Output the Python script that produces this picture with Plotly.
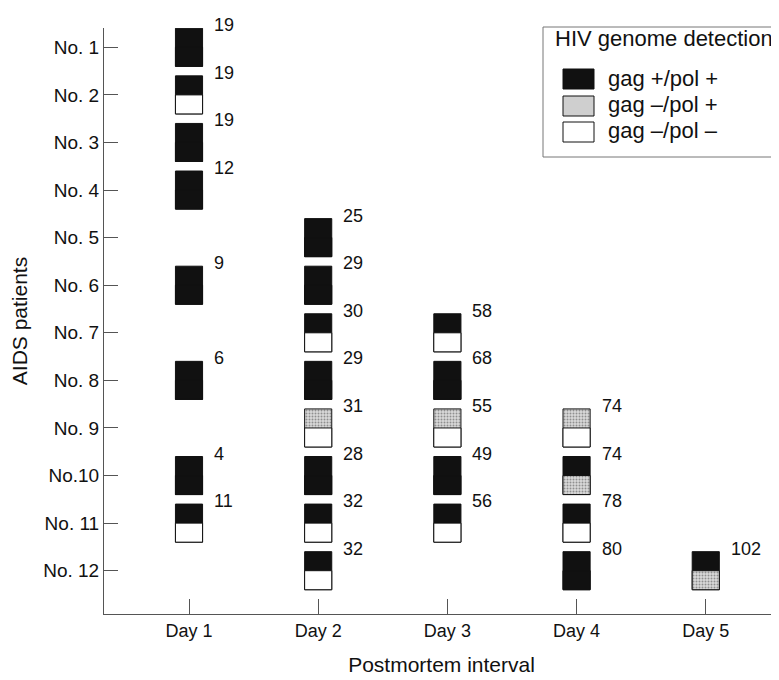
import plotly.graph_objects as go

# ---------------- data ----------------
day_labels = ["Day 1", "Day 2", "Day 3", "Day 4", "Day 5"]
patient_labels = ["No. 1", "No. 2", "No. 3", "No. 4", "No. 5", "No. 6",
                  "No. 7", "No. 8", "No. 9", "No.10", "No. 11", "No. 12"]

# each sample: day, patient, postmortem hours, upper-half result, lower-half result
# results: "pp" = gag +/pol + , "mp" = gag -/pol + , "mm" = gag -/pol -
sample_day = [1, 1, 1, 1, 1, 1, 1, 1,
              2, 2, 2, 2, 2, 2, 2, 2,
              3, 3, 3, 3, 3,
              4, 4, 4, 4,
              5]
sample_patient = [1, 2, 3, 4, 6, 8, 10, 11,
                  5, 6, 7, 8, 9, 10, 11, 12,
                  7, 8, 9, 10, 11,
                  9, 10, 11, 12,
                  12]
sample_hours = [19, 19, 19, 12, 9, 6, 4, 11,
                25, 29, 30, 29, 31, 28, 32, 32,
                58, 68, 55, 49, 56,
                74, 74, 78, 80,
                102]
upper_result = ["pp", "pp", "pp", "pp", "pp", "pp", "pp", "pp",
                "pp", "pp", "pp", "pp", "mp", "pp", "pp", "pp",
                "pp", "pp", "mp", "pp", "pp",
                "mp", "pp", "pp", "pp",
                "pp"]
lower_result = ["pp", "mm", "pp", "pp", "pp", "pp", "pp", "mm",
                "pp", "pp", "mm", "pp", "mm", "pp", "mm", "mm",
                "mm", "pp", "mm", "pp", "mm",
                "mm", "mp", "mm", "pp",
                "mp"]

legend_keys = ["pp", "mp", "mm"]
legend_text = ["gag +/pol +", "gag \u2013/pol +", "gag \u2013/pol \u2013"]

# ---------------- styles ----------------
FONT = "Liberation Sans, Arial, sans-serif"
INK = "#111111"
FILL = {"pp": INK, "mp": "#dadada", "mm": "#ffffff"}
PAT = {"pp": "", "mp": ".", "mm": ""}
AXIS_COL = "#555555"

PAGE_OFF = 8                      # default body margin of the html page
W, H = 779 - PAGE_OFF, 680 - PAGE_OFF
L, R, T, B = 104 - PAGE_OFF, 0, 28 - PAGE_OFF, 66
PW, PH = W - L - R, H - T - B
HALF = 0.4
BOX_W = 0.21


def px(x):
    """page pixel x -> paper fraction"""
    return (x - PAGE_OFF - L) / PW


def py(y):
    """page pixel y -> paper fraction"""
    return (H - B - (y - PAGE_OFF)) / PH


def box_trace(results, offset, height):
    return go.Bar(
        x=sample_day,
        y=[height] * len(sample_day),
        base=[p + offset for p in sample_patient],
        width=BOX_W,
        marker=dict(
            color=[FILL[r] for r in results],
            line=dict(color=INK, width=1),
            pattern=dict(shape=[PAT[r] for r in results],
                         fgcolor="#9a9a9a", bgcolor=[FILL[r] for r in results],
                         size=3, solidity=0.35),
        ),
        showlegend=False,
        hoverinfo="skip",
    )


fig = go.Figure()
# full box in the upper-half colour, then the lower half drawn over it
fig.add_trace(box_trace(upper_result, -HALF, 2 * HALF))
fig.add_trace(box_trace(lower_result, 0.0, HALF))

annotations = []
for d, p, h in zip(sample_day, sample_patient, sample_hours):
    annotations.append(dict(
        x=d, y=p - HALF, xref="x", yref="y", text=str(h), showarrow=False,
        xanchor="left", yanchor="middle", xshift=23, yshift=3,
        font=dict(family=FONT, size=18, color=INK),
    ))

# custom legend (paper coordinates from pixel positions)
shapes = [dict(type="rect", xref="paper", yref="paper",
               x0=px(543), x1=px(778), y0=py(157), y1=py(27),
               line=dict(color="#777777", width=1), fillcolor="white", layer="below")]
annotations.append(dict(x=px(553), y=py(38), xref="paper", yref="paper",
                        text="HIV genome detection", showarrow=False,
                        xanchor="left", yanchor="middle",
                        font=dict(family=FONT, size=22, color=INK)))
sw_top = [69, 96, 122]
for k, t, yt in zip(legend_keys, legend_text, sw_top):
    shapes.append(dict(type="rect", xref="paper", yref="paper",
                       x0=px(563), x1=px(594), y0=py(yt + 20), y1=py(yt),
                       line=dict(color=INK, width=1),
                       fillcolor="#cfcfcf" if k == "mp" else FILL[k]))
    annotations.append(dict(x=px(606), y=py(yt + 9), xref="paper", yref="paper",
                            text=t, showarrow=False, xanchor="left", yanchor="middle",
                            font=dict(family=FONT, size=22, color=INK)))

fig.update_layout(
    width=W, height=H,
    margin=dict(l=L, r=R, t=T, b=B, autoexpand=False),
    paper_bgcolor="white", plot_bgcolor="white",
    barmode="overlay",
    font=dict(family=FONT, size=18, color=INK),
    shapes=shapes,
    annotations=annotations,
    showlegend=False,
)
fig.update_xaxes(
    range=[0.342, 5.567], automargin=False,
    tickvals=list(range(1, len(day_labels) + 1)), ticktext=day_labels,
    ticks="inside", ticklen=15, tickcolor=AXIS_COL, tickwidth=1,
    showline=True, linecolor=AXIS_COL, linewidth=1,
    showgrid=False, zeroline=False,
    tickfont=dict(family=FONT, size=18, color=INK),
    title=dict(text="Postmortem interval", standoff=17,
               font=dict(family=FONT, size=21, color=INK)),
)
fig.update_yaxes(
    range=[12.91, 0.594], automargin=False,
    tickvals=list(range(1, len(patient_labels) + 1)), ticktext=patient_labels,
    ticks="inside", ticklen=14, tickcolor=AXIS_COL, tickwidth=1,
    showline=True, linecolor=AXIS_COL, linewidth=1,
    showgrid=False, zeroline=False,
    tickfont=dict(family=FONT, size=19, color=INK),
    title=dict(text="AIDS patients", standoff=12,
               font=dict(family=FONT, size=21, color=INK)),
)

fig.write_html("out.html")
